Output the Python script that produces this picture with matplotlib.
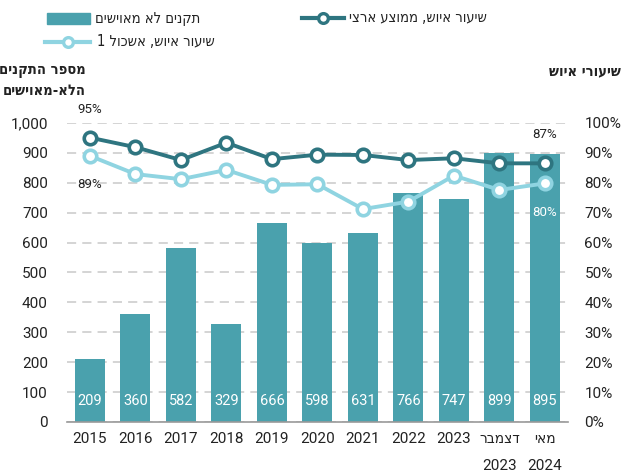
import matplotlib
matplotlib.use("Agg")
import matplotlib.pyplot as plt
from matplotlib.lines import Line2D
from matplotlib.patches import Rectangle


def heb(s):
    # matplotlib has no bidi support: lay Hebrew out in visual order
    return s[::-1]


FONT = ["Roboto", "DejaVu Sans"]
HEB = dict(family="DejaVu Sans", fontstretch="condensed")
plt.rcParams["font.family"] = FONT

# data
categories = ["2015", "2016", "2017", "2018", "2019", "2020", "2021", "2022", "2023",
              heb("דצמבר") + "\n2023", heb("מאי") + "\n2024"]
vacant_posts = [209, 360, 582, 329, 666, 598, 631, 766, 747, 899, 895]
rate_national = [95.1, 91.9, 87.6, 93.4, 87.9, 89.4, 89.3, 87.6, 88.2, 86.5, 86.5]
rate_cluster1 = [89.0, 82.9, 81.2, 84.3, 79.3, 79.5, 71.2, 73.7, 82.4, 77.6, 79.8]
left_ticks = [0, 100, 200, 300, 400, 500, 600, 700, 800, 900, 1000]
right_ticks = [0, 10, 20, 30, 40, 50, 60, 70, 80, 90, 100]

BAR = "#4aa1ad"
DARK = "#2e7580"
LIGHT = "#8fd4e1"
TXT = "#222222"

fig = plt.figure(figsize=(6.28, 4.75), dpi=100)
ax = fig.add_axes([0.107, 0.1116, 0.797, 0.6295])
x = list(range(len(categories)))

bars = ax.bar(x, vacant_posts, width=0.66, color=BAR, zorder=2)
for xi, v in zip(x, vacant_posts):
    ax.text(xi, 70, f"{v}", ha="center", va="center", color="white", fontsize=10.5, zorder=3)

ax.set_xlim(-0.5, 10.5)
ax.set_ylim(0, 1000)
ax.set_yticks(left_ticks)
ax.set_yticklabels([f"{t:,}" for t in left_ticks])
ax.set_xticks(x)
ax.set_xticklabels(categories, linespacing=2.2)
ax.tick_params(axis="y", length=0, pad=14, labelsize=11, labelcolor=TXT)
ax.tick_params(axis="x", length=0, pad=7, labelsize=11, labelcolor=TXT)
for lbl in ax.get_xticklabels()[-2:]:
    lbl.set_fontstretch("condensed")
ax.grid(True, axis="y", color="#c9c9c9", lw=1.1, ls=(0, (6, 4)), zorder=0)
ax.set_axisbelow(True)
for side in ("top", "right", "left"):
    ax.spines[side].set_visible(False)
ax.spines["bottom"].set_color("#999999")
ax.spines["bottom"].set_linewidth(1.2)

ax2 = ax.twinx()
ax2.set_ylim(0, 100)
ax2.set_yticks(right_ticks)
ax2.set_yticklabels([f"{t}%" for t in right_ticks])
ax2.tick_params(axis="y", length=0, pad=12, labelsize=11, labelcolor=TXT)
for side in ("top", "right", "left", "bottom"):
    ax2.spines[side].set_visible(False)

ax2.plot(x, rate_cluster1, color=LIGHT, lw=2.8, marker="o", ms=9, mfc="white",
         mec=LIGHT, mew=2.6, zorder=4, clip_on=False)
ax2.plot(x, rate_national, color=DARK, lw=2.8, marker="o", ms=9, mfc="white",
         mec=DARK, mew=2.6, zorder=5, clip_on=False)

ax2.text(x[0], rate_national[0] + 9.5, "95%", ha="center", va="center", fontsize=9.5, color=TXT)
ax2.text(x[0], rate_cluster1[0] - 9.5, "89%", ha="center", va="center", fontsize=9.5, color=TXT)
ax2.text(x[-1], rate_national[-1] + 9.7, "87%", ha="center", va="center", fontsize=9.5, color=TXT)
ax2.text(x[-1], rate_cluster1[-1] - 9.8, "80%", ha="center", va="center", fontsize=9.5,
         color="white", zorder=6)

# axis titles
fig.text(0.137, 0.852, heb("מספר התקנים"), ha="right", va="center", fontsize=10.5,
         fontweight="bold", color=TXT, **HEB)
fig.text(0.137, 0.810, heb("הלא-מאוישים"), ha="right", va="center", fontsize=10.5,
         fontweight="bold", color=TXT, **HEB)
fig.text(0.988, 0.852, heb("שיעורי איוש"), ha="right", va="center", fontsize=10.5,
         fontweight="bold", color=TXT, **HEB)

# legend
fig.add_artist(Rectangle((47 / 628, 1 - 24 / 475), 43 / 628, 11 / 475,
                         transform=fig.transFigure, color=BAR))
fig.text(200 / 628, 1 - 18 / 475, heb("תקנים לא מאוישים"), ha="right", va="center",
         fontsize=10.5, color=TXT, **HEB)
fig.add_artist(Line2D([302 / 628, 344 / 628], [1 - 18 / 475] * 2, transform=fig.transFigure,
                      color=DARK, lw=3))
fig.add_artist(Line2D([323 / 628], [1 - 18 / 475], transform=fig.transFigure, marker="o",
                      ms=7, mfc="white", mec=DARK, mew=2.4, color=DARK))
fig.text(487 / 628, 1 - 18 / 475, heb("שיעור איוש, ממוצע ארצי"), ha="right", va="center",
         fontsize=10.5, color=TXT, **HEB)
fig.add_artist(Line2D([45 / 628, 90 / 628], [1 - 42 / 475] * 2, transform=fig.transFigure,
                      color=LIGHT, lw=3))
fig.add_artist(Line2D([68 / 628], [1 - 42 / 475], transform=fig.transFigure, marker="o",
                      ms=7, mfc="white", mec=LIGHT, mew=2.4, color=LIGHT))
fig.text(215 / 628, 1 - 42 / 475, heb("שיעור איוש, אשכול 1"), ha="right", va="center",
         fontsize=10.5, color=TXT, **HEB)

fig.savefig("out.png", dpi=100)
